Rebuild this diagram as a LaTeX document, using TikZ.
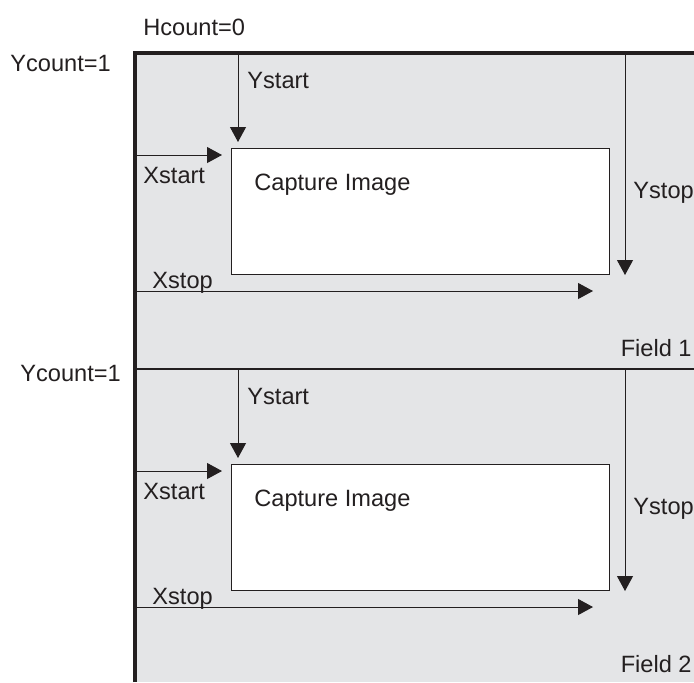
\documentclass[tikz,border=0pt]{standalone}
\usepackage{fontspec}
\setmainfont{Liberation Sans}
\usepackage{xcolor}
\definecolor{frame}{HTML}{E4E5E7}
\definecolor{ink}{HTML}{231F20}
\usetikzlibrary{arrows.meta}
\tikzset{
    capbox/.style = {
      draw=ink,
      fill=white,
      line width=0.5pt,
      minimum width=189pt,
      minimum height=63pt,
      inner sep=0pt
    },
    txt/.style = {
      inner sep=0pt,
      text=ink,
      font=\fontsize{11.8}{14}\selectfont
    },
    arr/.style = {
      draw=ink,
      line width=0.5pt,
      -{Triangle[length=7.5pt,width=8pt]}
    },
    edge/.style = {
      draw=ink,
      line width=1.6pt
    },
    sep/.style = {
      draw=ink,
      line width=0.6pt
    }
}

\begin{document}
\begin{tikzpicture}[x=0.5pt,y=-0.5pt]
      \useasboundingbox (0,0) rectangle (694,682);
      \fill[frame] (135,53) rectangle (694,682);

      % corners of the frame
      \coordinate (O)  at (135,53);
      \coordinate (R)  at (694,53);
      \coordinate (B)  at (135,682);
      \coordinate (L)  at (135,369);
      \coordinate (RL) at (694,369);

      \node[txt, anchor=base west] (H)  at (143,35)  {Hcount=0};
      \node[txt, anchor=base west] (Y1) at (10,71)   {Ycount=1};
      \node[txt, anchor=base west] (Y2) at (20,381)  {Ycount=1};

      % field 1
      \node[capbox] (C1) at (420,211) {};
      \node[txt, anchor=base west] (CI1) at (254,190) {Capture Image};
      \coordinate (YA1) at (238,53);  \coordinate (YB1) at (238,142);
      \coordinate (XA1) at (135,155); \coordinate (XB1) at (222,155);
      \coordinate (PA1) at (135,291); \coordinate (PB1) at (593,291);
      \coordinate (QA1) at (625,53);  \coordinate (QB1) at (625,275);
      \draw[arr] (YA1) -- (YB1);
      \draw[arr] (XA1) -- (XB1);
      \draw[arr] (PA1) -- (PB1);
      \draw[arr] (QA1) -- (QB1);
      \node[txt, anchor=base west] (YS1) at (247,88)  {Ystart};
      \node[txt, anchor=base west] (XS1) at (143,183) {Xstart};
      \node[txt, anchor=base west] (XT1) at (152,288) {Xstop};
      \node[txt, anchor=base west] (YT1) at (633,198) {Ystop};
      \node[txt, anchor=base east] (F1)  at (692,356) {Field 1};

      % field 2
      \draw[sep] (L) -- (RL);
      \node[capbox] (C2) at (420,527) {};
      \node[txt, anchor=base west] (CI2) at (254,506) {Capture Image};
      \coordinate (YA2) at (238,369); \coordinate (YB2) at (238,458);
      \coordinate (XA2) at (135,471); \coordinate (XB2) at (222,471);
      \coordinate (PA2) at (135,607); \coordinate (PB2) at (593,607);
      \coordinate (QA2) at (625,369); \coordinate (QB2) at (625,591);
      \draw[arr] (YA2) -- (YB2);
      \draw[arr] (XA2) -- (XB2);
      \draw[arr] (PA2) -- (PB2);
      \draw[arr] (QA2) -- (QB2);
      \node[txt, anchor=base west] (YS2) at (247,404) {Ystart};
      \node[txt, anchor=base west] (XS2) at (143,499) {Xstart};
      \node[txt, anchor=base west] (XT2) at (152,604) {Xstop};
      \node[txt, anchor=base west] (YT2) at (633,514) {Ystop};
      \node[txt, anchor=base east] (F2)  at (692,672) {Field 2};

      \draw[edge, line join=miter] (B) -- (O) -- (R);
    \end{tikzpicture}
\end{document}
